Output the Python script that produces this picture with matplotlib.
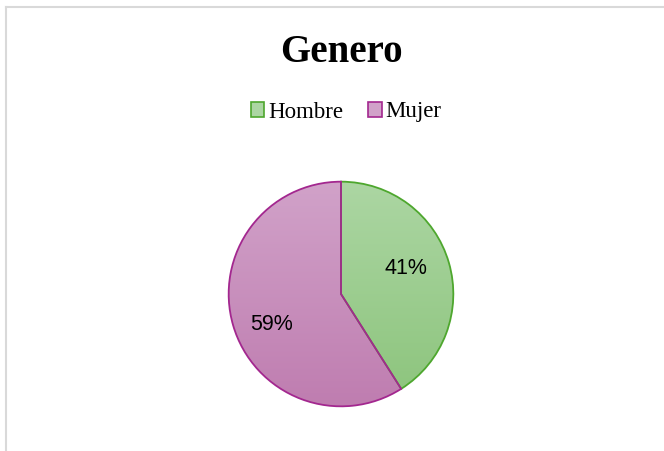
import numpy as np
import matplotlib.pyplot as plt
from matplotlib.patches import Patch
from matplotlib.lines import Line2D
from matplotlib.colors import LinearSegmentedColormap

labels = ["Hombre", "Mujer"]
values = [41, 59]
top_colors = ["#acd6a3", "#d1a2c9"]
bottom_colors = ["#8cc47c", "#bf7db0"]
edge_colors = ["#4ea72e", "#a3278f"]
# label anchor points inside the pie (axes data units)
label_pos = [(0.58, 0.23), (-0.62, -0.27)]

W, H = 664, 451
fig = plt.figure(figsize=(W / 100, H / 100), dpi=100)

# light border of the chart area (only top and left visible)
fig.add_artist(Line2D([6 / W, 6 / W], [0, 1 - 7 / H], color="#d9d9d9", lw=1.5))
fig.add_artist(Line2D([6 / W, 1], [1 - 7 / H, 1 - 7 / H], color="#d9d9d9", lw=1.5))

fig.text(341 / W, 1 - 52 / H, "Genero", ha="center", va="center",
         fontsize=28, fontweight="bold", family="Liberation Serif")

cx, cy, r = 341, 294, 113
ax = fig.add_axes([(cx - r) / W, (H - cy - r) / H, 2 * r / W, 2 * r / H])
wedges, _ = ax.pie(values, startangle=90, counterclock=False, radius=1,
                   colors=bottom_colors, wedgeprops=dict(linewidth=1.3))
ax.set_xlim(-1.006, 1.006)
ax.set_ylim(-1.006, 1.006)
ax.set_aspect("equal")
ax.axis("off")

# vertical gradient fill clipped to each wedge
for w, c0, c1, ec in zip(wedges, top_colors, bottom_colors, edge_colors):
    cmap = LinearSegmentedColormap.from_list("g", [c1, c0])
    grad = np.linspace(0, 1, 256).reshape(-1, 1)
    im = ax.imshow(grad, extent=[-1, 1, -1, 1], origin="lower", cmap=cmap,
                   aspect="auto", zorder=2)
    im.set_clip_path(w)
    w.set_facecolor("none")
    w.set_edgecolor(ec)
    w.set_zorder(3)

total = sum(values)
for v, (x, y) in zip(values, label_pos):
    ax.text(x, y, f"{round(100 * v / total)}%", ha="center", va="center",
            fontsize=15.5, family="Liberation Sans", zorder=10)

handles = [Patch(facecolor=t, edgecolor=e, lw=1.2) for t, e in zip(top_colors, edge_colors)]
fig.legend(handles, labels, loc="center", bbox_to_anchor=(346 / W, 1 - 112 / H),
           ncol=2, frameon=False, prop={"family": "Liberation Serif", "size": 16.5},
           handlelength=0.6, handleheight=0.6, handletextpad=0.15,
           columnspacing=1.1)

fig.savefig("out.png", dpi=100)
